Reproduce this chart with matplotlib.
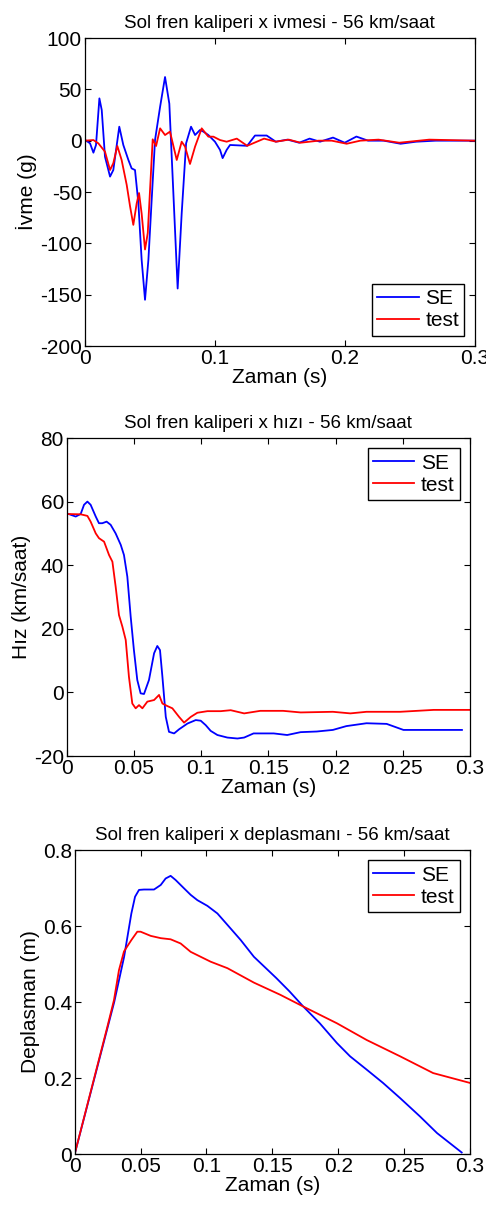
import matplotlib
matplotlib.use('Agg')
import matplotlib.pyplot as plt
from matplotlib.ticker import FuncFormatter

plt.rcParams['font.family'] = ['Liberation Sans', 'DejaVu Sans']

# ── panel 1: ivme (g) ──
t_acc_se = [0, 0.0041, 0.0067, 0.0087, 0.0113, 0.0131, 0.0156, 0.0195, 0.022, 0.0266, 0.0297,
            0.0336, 0.0361, 0.0387, 0.0413, 0.0438, 0.0464, 0.049, 0.0515, 0.0541, 0.058,
            0.0618, 0.0651, 0.0682, 0.0715, 0.0746, 0.078, 0.0818, 0.0849, 0.0887, 0.0913,
            0.0951, 0.1002, 0.1041, 0.1061, 0.1092, 0.1118, 0.125, 0.131, 0.14, 0.147,
            0.156, 0.165, 0.173, 0.181, 0.191, 0.2, 0.209, 0.218, 0.23, 0.243, 0.255, 0.27, 0.3]
acc_se = [1, -2.6, -11.7, -4.2, 41.2, 29.9, -15.6, -35, -28.6, 13.6, -4.2,
          -18.8, -27, -28.6, -61, -116, -155, -116, -58, 0.6, 33,
          62, 36, -51, -144, -71, -2.6, 13.6, 5.5, 10.4, 8.8,
          5.5, -1, -9, -17, -9, -4.2, -5, 5, 5, -1,
          1, -2, 2, -1, 3, -2, 4, 0, 0, -3, -1, 0, 0]
t_acc_test = [0, 0.0067, 0.0105, 0.0156, 0.0195, 0.022, 0.0251, 0.0284, 0.0323, 0.0349, 0.0374,
              0.04, 0.0418, 0.0438, 0.0464, 0.0485, 0.0508, 0.0523, 0.0549, 0.058, 0.0618,
              0.0656, 0.0708, 0.0746, 0.0772, 0.081, 0.0849, 0.09, 0.0951, 0.099, 0.1041,
              0.1092, 0.117, 0.125, 0.138, 0.147, 0.157, 0.166, 0.18, 0.19, 0.2015, 0.212,
              0.226, 0.242, 0.265, 0.3]
acc_test = [0, 0.6, -2.6, -10.7, -28.6, -22, -5.2, -18.8, -43, -64, -82,
            -61, -51, -71, -106, -90, -35, 1.3, -5.2, 12, 5.5,
            8.8, -18.8, -1, -5.8, -22.7, -5.8, 12, 3.9, 3.9, 0.6,
            -1, 2, -5, 2, -1, 1, -2, 0, 0, -3, 0,
            1, -2, 1, 0]

# ── panel 2: hız (km/saat) ──
t_vel_se = [0, 0.0067, 0.0104, 0.0129, 0.0154, 0.0178, 0.0216, 0.024, 0.0265, 0.0297, 0.0327,
            0.0364, 0.0402, 0.0426, 0.0451, 0.0476, 0.05, 0.0525, 0.055, 0.0575, 0.0612,
            0.065, 0.0674, 0.0694, 0.0712, 0.0737, 0.0761, 0.0799, 0.0836, 0.0898, 0.096,
            0.0997, 0.1034, 0.1071, 0.1121, 0.1195, 0.127, 0.132, 0.139, 0.154, 0.164,
            0.174, 0.186, 0.198, 0.208, 0.223, 0.238, 0.2505, 0.273, 0.294]
vel_se = [56.3, 55.3, 56.1, 59, 60, 59, 55.3, 53.2, 53.2, 53.7, 52.7,
          50, 46.4, 43.2, 36.4, 23.8, 13.3, 3.9, -0.3, -0.5, 3.9,
          12.3, 14.6, 13.3, 4.9, -7.7, -12.4, -12.9, -11.6, -9.8, -8.7,
          -8.9, -10.3, -12.1, -13.4, -14.2, -14.5, -14.2, -12.9, -12.9, -13.4,
          -12.5, -12.3, -11.8, -10.6, -9.7, -9.9, -11.8, -11.8, -11.8]
t_vel_test = [0, 0.0104, 0.0154, 0.0178, 0.0216, 0.024, 0.0278, 0.0315, 0.034, 0.0364, 0.0389,
              0.0414, 0.0439, 0.0463, 0.0488, 0.0513, 0.0538, 0.0563, 0.06, 0.065, 0.0687,
              0.0712, 0.0749, 0.0786, 0.0836, 0.0873, 0.0923, 0.0972, 0.1047, 0.1146, 0.122,
              0.132, 0.144, 0.161, 0.174, 0.198, 0.211, 0.223, 0.248, 0.273, 0.3]
vel_test = [56.1, 56, 55.5, 53.7, 50, 48.5, 47.4, 43.2, 41.1, 33.3, 24.3,
            20.7, 16.5, 4.9, -3.5, -5, -4, -5, -2.9, -2.4, -0.8,
            -3.5, -4.3, -5, -7.7, -9.5, -7.7, -6.4, -5.9, -5.9, -5.6,
            -6.6, -5.8, -5.8, -6.3, -6.1, -6.6, -6.1, -6.1, -5.5, -5.5]

# ── panel 3: deplasman (m) ──
t_dis_se = [0, 0.015, 0.03, 0.0375, 0.043, 0.0458, 0.0488, 0.0526, 0.0602, 0.0653, 0.069,
            0.0728, 0.0766, 0.083, 0.088, 0.0931, 0.1007, 0.1083, 0.1159, 0.126, 0.136,
            0.153, 0.163, 0.1735, 0.186, 0.199, 0.209, 0.2216, 0.234, 0.247, 0.262, 0.275,
            0.2937]
dis_se = [0, 0.2, 0.4, 0.519, 0.633, 0.677, 0.695, 0.696, 0.696, 0.708, 0.725,
          0.732, 0.721, 0.699, 0.682, 0.668, 0.653, 0.633, 0.603, 0.563, 0.519,
          0.463, 0.428, 0.388, 0.344, 0.292, 0.257, 0.222, 0.187, 0.147, 0.099, 0.055,
          0.004]
t_dis_test = [0, 0.0248, 0.0298, 0.0336, 0.0374, 0.043, 0.0475, 0.05, 0.0577, 0.0653, 0.0728,
              0.0804, 0.088, 0.0956, 0.1032, 0.1159, 0.136, 0.156, 0.1735, 0.199, 0.2216,
              0.247, 0.272, 0.3]
dis_test = [0, 0.335, 0.405, 0.484, 0.533, 0.563, 0.585, 0.585, 0.574, 0.568, 0.565,
            0.554, 0.532, 0.519, 0.506, 0.489, 0.451, 0.419, 0.388, 0.344, 0.3,
            0.257, 0.213, 0.187]

titles = ['Sol fren kaliperi x ivmesi - 56 km/saat',
          'Sol fren kaliperi x hızı - 56 km/saat',
          'Sol fren kaliperi x deplasmanı - 56 km/saat']
ylabels = ['İvme (g)', 'Hız (km/saat)', 'Deplasman (m)']
ylims = [(-200, 100), (-20, 80), (0, 0.8)]
yticks = [[-200, -150, -100, -50, 0, 50, 100], [-20, 0, 20, 40, 60, 80],
          [0, 0.2, 0.4, 0.6, 0.8]]
xticks = [[0, 0.1, 0.2, 0.3], [0, 0.05, 0.1, 0.15, 0.2, 0.25, 0.3],
          [0, 0.05, 0.1, 0.15, 0.2, 0.25, 0.3]]
leg_loc = ['lower right', 'upper right', 'upper right']
series = [(t_acc_se, acc_se, t_acc_test, acc_test),
          (t_vel_se, vel_se, t_vel_test, vel_test),
          (t_dis_se, dis_se, t_dis_test, dis_test)]

W, H = 486, 1211
boxes = [(84.7, 38, 474.7, 346), (66.7, 438, 470, 756), (74.7, 850, 470, 1154)]

fig = plt.figure(figsize=(W / 100, H / 100), dpi=100)
fmt = FuncFormatter(lambda v, p: '%g' % v)

for i, (x0, y0, x1, y1) in enumerate(boxes):
    ax = fig.add_axes([x0 / W, 1 - y1 / H, (x1 - x0) / W, (y1 - y0) / H])
    tse, vse, tte, vte = series[i]
    ax.plot(tse, vse, color='#0000ff', lw=1.3, label='SE')
    ax.plot(tte, vte, color='#ff0000', lw=1.3, label='test')
    ax.set_xlim(0, 0.3)
    ax.set_ylim(*ylims[i])
    ax.set_xticks(xticks[i])
    ax.set_yticks(yticks[i])
    ax.xaxis.set_major_formatter(fmt)
    ax.yaxis.set_major_formatter(fmt)
    ax.tick_params(direction='in', top=True, right=True, length=4, width=0.8,
                   labelsize=15, pad=2)
    for s in ax.spines.values():
        s.set_linewidth(0.9)
    ax.set_title(titles[i], fontsize=13.5, pad=7)
    ax.set_xlabel('Zaman (s)', fontsize=15, labelpad=0)
    ax.set_ylabel(ylabels[i], fontsize=15, labelpad=2)
    leg = ax.legend(loc=leg_loc[i], fontsize=15, fancybox=False, framealpha=1,
                    edgecolor='black', handlelength=2.0, handletextpad=0.3,
                    borderpad=0.25, labelspacing=0.15, borderaxespad=0.5)
    leg.get_frame().set_linewidth(1.0)

fig.savefig('out.png', dpi=100)
